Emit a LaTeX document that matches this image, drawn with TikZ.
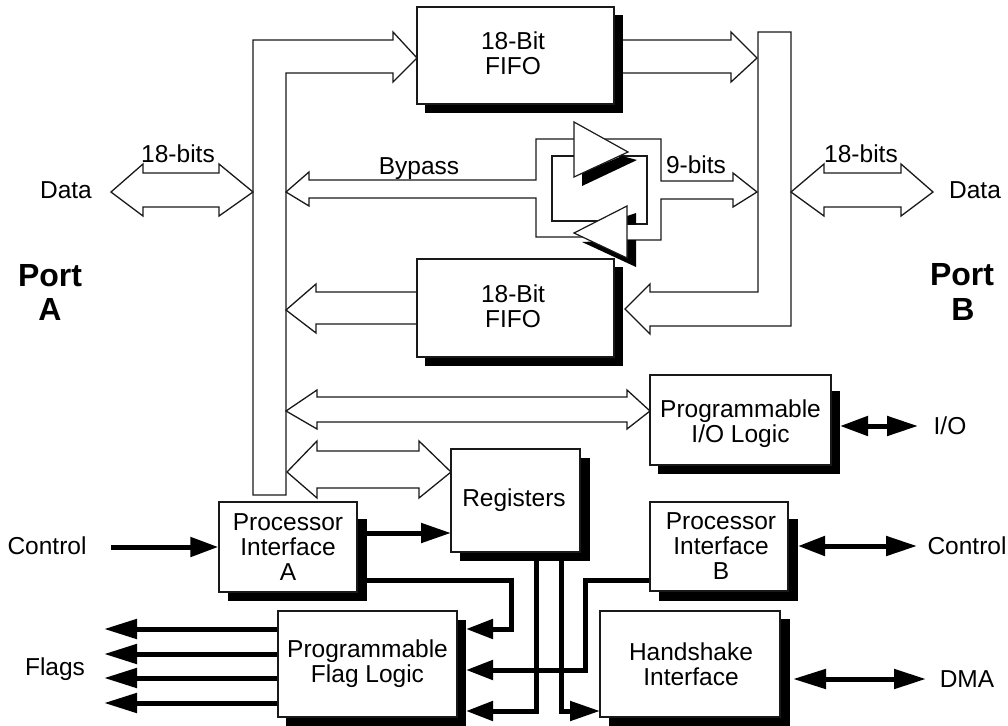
\documentclass[tikz,border=0pt]{standalone}
\usepackage{fontspec}
\setmainfont{Liberation Sans}
\usetikzlibrary{arrows.meta}
\tikzset{
  hollow/.style={draw=black!90,fill=white,line width=1.3pt,line join=miter},
  plain/.style={draw=black!90,line width=1.3pt,line join=miter},
  tri/.style={draw=black!90,fill=white,line width=1.2pt,line join=miter},
  shadowfill/.style={fill=black},
  unit/.style={draw=black!90,fill=white,line width=1.3pt,inner sep=0pt,align=center,
    font=\fontsize{24.5}{25}\selectfont},
  lbl/.style={inner sep=0pt,anchor=base,font=\fontsize{24.5}{25}\selectfont},
  bold/.style={inner sep=0pt,anchor=base,font=\fontsize{32}{34}\selectfont\bfseries},
  wire/.style={line width=5pt,line join=miter,line cap=butt},
  inw/.style={wire,-{Triangle[length=#1,width=19pt]}},
  both/.style n args={2}{wire,{Triangle[length=#1,width=19pt]}-{Triangle[length=#2,width=19pt]}}
}
\newcommand{\lift}[1]{\rule[-#1pt]{0pt}{#1pt}}
\begin{document}
\begin{tikzpicture}[x=1pt,y=-1pt]
\useasboundingbox (0,0) rectangle (1008,725);

% wide buses
\draw[hollow] (253,495) -- (253,40) -- (393,40) -- (393,32) -- (417,58) -- (393,82) -- (393,73) -- (286,73) -- (286,495) -- cycle;
\draw[hollow] (758,32) -- (791,32) -- (791,326) -- (650,326) -- (650,334) -- (625,309) -- (650,284) -- (650,292) -- (758,292) -- cycle;
\draw[hollow] (111,192) -- (143,164) -- (143,173) -- (219,173) -- (219,164) -- (253,192) -- (219,216) -- (219,207) -- (143,207) -- (143,216) -- cycle;
\draw[hollow] (791,192) -- (824,164) -- (824,173) -- (901,173) -- (901,164) -- (933,192) -- (901,216) -- (901,207) -- (824,207) -- (824,216) -- cycle;
\draw[hollow] (623,40) -- (731,40) -- (731,32) -- (757,58) -- (731,82) -- (731,73) -- (623,73);
\draw[hollow] (417,292) -- (316,292) -- (316,284) -- (286,310) -- (316,333) -- (316,324) -- (417,324);
\draw[hollow] (286,411) -- (317,390) -- (317,397) -- (627,397) -- (627,390) -- (650,411) -- (627,429) -- (627,422) -- (317,422) -- (317,429) -- cycle;
\draw[hollow] (287,472) -- (317,441) -- (317,451) -- (419,451) -- (419,441) -- (451,472) -- (419,498) -- (419,488) -- (317,488) -- (317,498) -- cycle;

% bypass path through the two buffers
\draw[hollow] (286,192) -- (309,172) -- (309,180) -- (536,180) -- (536,139) -- (661,139) -- (661,181) -- (733,181) -- (733,173) -- (757,192) -- (733,207) -- (733,199) -- (661,199) -- (661,240) -- (610,240) -- (610,237) -- (536,237) -- (536,198) -- (309,198) -- (309,206) -- cycle;
\draw[plain] (600,221) -- (552,221) -- (552,156) -- (647,156) -- (647,224) -- (627,224);
\fill[shadowfill] (582,186) -- (637,160) -- (622,156) -- (582,173) -- cycle;
\fill[shadowfill] (627,216) -- (636,213) -- (636,224.6) -- (627,224.6) -- cycle;
\fill[shadowfill] (627,240) -- (636,240) -- (636,267) -- (582,242) -- cycle;
\draw[tri] (574,122) -- (628,152) -- (574,177) -- cycle;
\draw[tri] (574,233) -- (627,206) -- (627,258) -- cycle;

% shadows
\fill[shadowfill] (425,15) rectangle (623,113);
\fill[shadowfill] (425,267) rectangle (623,366);
\fill[shadowfill] (658,391) rectangle (840,474);
\fill[shadowfill] (460,458) rectangle (590,561);
\fill[shadowfill] (228,519) rectangle (367,601);
\fill[shadowfill] (659,519) rectangle (798,601);
\fill[shadowfill] (286,620) rectangle (466,726);
\fill[shadowfill] (609,619) rectangle (790,726);

% units
\node[unit,minimum width=197pt,minimum height=97pt] (fifoA) at (515.5,55.5) {18-Bit\kern5pt\\FIFO\kern5pt\lift{4}};
\node[unit,minimum width=197pt,minimum height=98pt] (fifoB) at (515.5,308) {18-Bit\kern5pt\\FIFO\kern5pt\lift{4}};
\node[unit,minimum width=181pt,minimum height=90pt] (pio) at (740.5,420) {\rule{0pt}{26pt}Programmable\\I/O Logic};
\node[unit,minimum width=129pt,minimum height=103pt] (regs) at (515.5,500.5) {Registers\kern3pt};
\node[unit,minimum width=138pt,minimum height=90pt] (pa) at (288,547) {Processor\\Interface\\A};
\node[unit,minimum width=138pt,minimum height=89pt] (pb) at (719,546.5) {\kern4pt Processor\\\kern4pt Interface\\\kern4pt B};
\node[unit,minimum width=179pt,minimum height=106pt] (flag) at (367.5,664) {Programmable\\Flag Logic};
\node[unit,minimum width=180pt,minimum height=106pt] (hs) at (690,664) {\kern2pt Handshake\\\kern2pt Interface};

% free ends and bends of the heavy wires
\coordinate (ctlL) at (111,547);
\coordinate (ctlR) at (917,546);
\coordinate (ioR) at (918,426);
\coordinate (dmaL) at (793,679);
\coordinate (dmaR) at (926,679);
\coordinate (f1) at (104,629);
\coordinate (f2) at (104,654);
\coordinate (f3) at (104,678);
\coordinate (f4) at (104,703);
\coordinate (toReg) at (451,533);
\coordinate (bendA) at (511,580);
\coordinate (inA) at (466,629);
\coordinate (bendB) at (585,580);
\coordinate (inB) at (466,670);
\coordinate (bendR) at (536,711);
\coordinate (inR) at (466,711);
\coordinate (bendS) at (561,711);
\coordinate (inS) at (600,711);
\coordinate (ioL) at (840,426);
\coordinate (ctlI) at (798,546);

% heavy wires
\draw[inw=28pt] (ctlL) -- (pa.west |- ctlL);
\draw[inw=30pt] (pa.east |- toReg) -- (toReg);
\draw[inw=27pt] (pa.east |- bendA) -- (bendA) |- (inA);
\draw[inw=27pt] (pb.west |- bendB) -- (bendB) |- (inB);
\draw[inw=27pt] (regs.south -| bendR) -- (bendR) -- (inR);
\draw[inw=30pt] (regs.south -| bendS) -- (bendS) -- (inS);
\draw[inw=33pt] (flag.west |- f1) -- (f1);
\draw[inw=33pt] (flag.west |- f2) -- (f2);
\draw[inw=33pt] (flag.west |- f3) -- (f3);
\draw[inw=33pt] (flag.west |- f4) -- (f4);
\draw[both={28pt}{31pt}] (ioL) -- (ioR);
\draw[both={27pt}{31pt}] (ctlI) -- (ctlR);
\draw[both={33pt}{32pt}] (dmaL) -- (dmaR);

% labels
\node[lbl] (l18a) at (178,162) {18-bits};
\node[lbl] (l18b) at (861,162) {18-bits};
\node[lbl] (lby) at (419,174) {Bypass};
\node[lbl] (l9) at (696,173) {9-bits};
\node[lbl] (ldl) at (66,198) {Data};
\node[lbl] (ldr) at (975,198) {Data};
\node[bold] (pAa) at (50,286) {Port};
\node[bold] (pAb) at (50,320) {A};
\node[bold] (pBa) at (962,285) {Port};
\node[bold] (pBb) at (963,320) {B};
\node[lbl] (lio) at (950,434) {I/O};
\node[lbl] (lcl) at (47,554) {Control};
\node[lbl] (lcr) at (967,554) {Control};
\node[lbl] (lfl) at (55,675) {Flags};
\node[lbl] (ldma) at (967,687) {DMA};
\end{tikzpicture}
\end{document}
